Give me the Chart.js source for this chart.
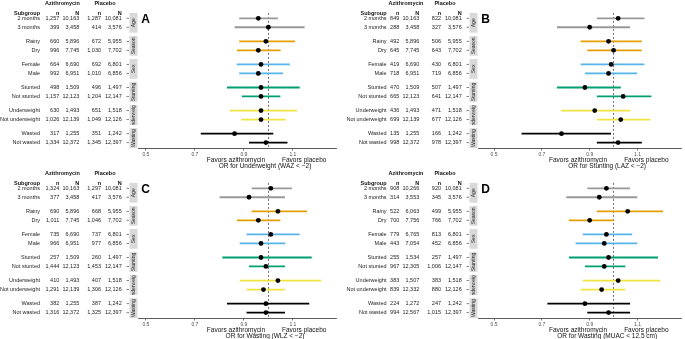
<!DOCTYPE html>
<html>
<head>
<meta charset="utf-8">
<script src="https://cdn.jsdelivr.net/npm/chart.js@4.4.1/dist/chart.umd.min.js"></script>
<style>
  body { margin: 0; width: 685px; height: 339px; position: relative; background: #fff; overflow: hidden; }
  canvas { position: absolute; }
</style>
</head>
<body>
<canvas id="panelA"></canvas>
<canvas id="panelB"></canvas>
<canvas id="panelC"></canvas>
<canvas id="panelD"></canvas>
<script>
// rows and facets, shared by all four panels
const subgroups = ['2 months', '3 months', 'Rainy', 'Dry', 'Female', 'Male',
  'Stunted', 'Not stunted', 'Underweight', 'Not underweight', 'Wasted', 'Not wasted'];
const strips = ['Age', 'Season', 'Sex', 'Stunting', 'Underweight', 'Wasting'];
const stripColors = ['#999999', '#E69F00', '#56B4E9', '#009E73', '#F0E442', '#000000'];
const xTicks = [0.5, 0.7, 0.9, 1.1];

// A: underweight (WAZ < -2)
const uwOR = [0.959, 1.0, 0.99, 0.959, 0.97, 0.959, 0.97, 0.97, 0.97, 0.97, 0.862, 0.99];
const uwLo = [0.881, 0.862, 0.881, 0.872, 0.871, 0.881, 0.831, 0.892, 0.842, 0.89, 0.724, 0.921];
const uwHi = [1.039, 1.148, 1.109, 1.05, 1.088, 1.06, 1.128, 1.049, 1.117, 1.071, 1.02, 1.078];
const uwAzn = [1257, 399, 660, 996, 664, 992, 498, 1157, 630, 1026, 317, 1334];
const uwPln = [1287, 414, 672, 1030, 692, 1010, 496, 1204, 651, 1049, 351, 1345];

// B: stunting (LAZ < -2)
const stOR = [1.019, 0.9, 0.979, 1.0, 0.99, 0.979, 0.88, 1.04, 0.921, 1.03, 0.782, 1.019];
const stLo = [0.93, 0.763, 0.862, 0.89, 0.862, 0.88, 0.763, 0.93, 0.78, 0.93, 0.615, 0.93];
const stHi = [1.129, 1.069, 1.118, 1.118, 1.129, 1.099, 1.03, 1.158, 1.069, 1.154, 0.989, 1.118];
const stAzn = [849, 288, 492, 645, 419, 718, 470, 665, 436, 699, 135, 998];
const stPln = [822, 327, 506, 643, 430, 719, 507, 641, 471, 677, 166, 978];

// C: wasting (WLZ < -2)
const waOR = [1.01, 0.921, 1.039, 0.959, 1.01, 0.97, 0.97, 0.99, 1.039, 0.98, 0.99, 0.99];
const waLo = [0.932, 0.801, 0.932, 0.872, 0.911, 0.883, 0.812, 0.921, 0.883, 0.911, 0.831, 0.911];
const waHi = [1.096, 1.068, 1.158, 1.049, 1.128, 1.069, 1.177, 1.068, 1.216, 1.068, 1.167, 1.068];
const waAzn = [1324, 377, 690, 1011, 735, 966, 257, 1444, 410, 1291, 382, 1316];
const waPln = [1297, 417, 668, 1046, 737, 977, 260, 1453, 407, 1306, 387, 1325];

// D: wasting (MUAC < 12.5 cm)
const muOR = [0.97, 0.94, 1.059, 0.9, 0.97, 0.961, 0.979, 0.961, 1.019, 0.95, 0.88, 0.979];
const muLo = [0.89, 0.802, 0.93, 0.813, 0.871, 0.841, 0.813, 0.88, 0.871, 0.862, 0.723, 0.89];
const muHi = [1.069, 1.099, 1.207, 1.0, 1.078, 1.099, 1.186, 1.049, 1.196, 1.049, 1.069, 1.069];
const muAzn = [908, 314, 522, 700, 779, 443, 255, 967, 383, 839, 224, 994];
const muPln = [920, 345, 499, 766, 813, 452, 257, 1006, 383, 880, 247, 1015];

// denominators
const azN = [10163, 3458, 5896, 7745, 6690, 6951, 1509, 12123, 1493, 12139, 1255, 12372];
const plN = [10081, 3576, 5955, 7702, 6801, 6856, 1497, 12147, 1518, 12126, 1242, 12397];
const muAzN = [10266, 3553, 6063, 7756, 6765, 7054, 1534, 12305, 1507, 12332, 1272, 12567];

const groupGap = 2.57;
const rowY = i => Math.floor(i / 2) * groupGap + (i % 2);
const fmt = v => v.toLocaleString('en-US');
const FONT = '"Liberation Sans", Arial, sans-serif';
const numRight = [59.3, 79.3, 101, 121.7];

const panels = [
  { id: 'panelA', left: 0, top: 0, width: 342, letter: 'A', or: uwOR, lo: uwLo, hi: uwHi,
    azn: uwAzn, azN: azN, pln: uwPln, plN: plN, title: 'OR for Underweight (WAZ < \u22122)',
    xMin: 0.469, xMax: 1.279, padRight: 5.3, labelRight: 40, azCenter: 62.5 },
  { id: 'panelB', left: 340, top: 0, width: 345, letter: 'B', or: stOR, lo: stLo, hi: stHi,
    azn: stAzn, azN: azN, pln: stPln, plN: plN, title: 'OR for Stunting (LAZ < \u22122)',
    xMin: 0.434, xMax: 1.282, padRight: 1.5, labelRight: 46.5, azCenter: 66 },
  { id: 'panelC', left: 0, top: 169.5, width: 342, letter: 'C', or: waOR, lo: waLo, hi: waHi,
    azn: waAzn, azN: azN, pln: waPln, plN: plN, title: 'OR for Wasting (WLZ < \u22122)',
    xMin: 0.469, xMax: 1.279, padRight: 5.3, labelRight: 40, azCenter: 62.5 },
  { id: 'panelD', left: 340, top: 169.5, width: 345, letter: 'D', or: muOR, lo: muLo, hi: muHi,
    azn: muAzn, azN: muAzN, pln: muPln, plN: plN, title: 'OR for Wasting (MUAC < 12.5 cm)',
    xMin: 0.434, xMax: 1.282, padRight: 1.5, labelRight: 46.5, azCenter: 66 },
];

function tablePlugin(p) {
  return {
    id: 'table' + p.letter,
    beforeDatasetsDraw(chart) {
      const { ctx, chartArea, scales: { x } } = chart;
      const px = x.getPixelForValue(1);
      ctx.save();
      ctx.strokeStyle = '#333';
      ctx.lineWidth = 0.7;
      ctx.setLineDash([2, 2]);
      ctx.beginPath();
      ctx.moveTo(px, chartArea.top);
      ctx.lineTo(px, chartArea.bottom);
      ctx.stroke();
      ctx.restore();
    },
    afterDraw(chart) {
      const { ctx, chartArea, scales: { x, y } } = chart;
      ctx.save();
      ctx.textBaseline = 'middle';

      // header
      ctx.fillStyle = '#111';
      ctx.font = 'bold 5.5px ' + FONT;
      ctx.textAlign = 'center';
      ctx.fillText('Azithromycin', p.azCenter, 3);
      ctx.fillText('Placebo', 105, 3);
      ctx.textAlign = 'right';
      ctx.fillText('Subgroup', p.labelRight, 13.3);
      ['n', 'N', 'n', 'N'].forEach((h, k) => ctx.fillText(h, numRight[k], 13.3));

      // rows
      ctx.font = '5.5px ' + FONT;
      ctx.fillStyle = '#222';
      ctx.strokeStyle = '#333';
      ctx.lineWidth = 0.6;
      subgroups.forEach((s, i) => {
        const py = y.getPixelForValue(rowY(i));
        ctx.fillText(s, p.labelRight, py);
        [p.azn[i], p.azN[i], p.pln[i], p.plN[i]].forEach((v, k) => ctx.fillText(fmt(v), numRight[k], py));
        ctx.beginPath();
        ctx.moveTo(126.5, py);
        ctx.lineTo(129, py);
        ctx.stroke();
      });

      // facet strips
      strips.forEach((s, g) => {
        const t = y.getPixelForValue(g * groupGap - 0.6);
        const b = y.getPixelForValue(g * groupGap + 1.6);
        ctx.fillStyle = '#d9d9d9';
        ctx.fillRect(129.5, t, 8, b - t);
        ctx.save();
        ctx.beginPath();
        ctx.rect(129.5, t, 8, b - t);
        ctx.clip();
        ctx.translate(133.5, (t + b) / 2);
        ctx.rotate(-Math.PI / 2);
        ctx.fillStyle = '#1a1a1a';
        ctx.font = '5px ' + FONT;
        ctx.textAlign = 'center';
        ctx.fillText(s, 0, 0.3);
        ctx.restore();
      });

      // panel letter
      ctx.fillStyle = '#000';
      ctx.font = 'bold 12px ' + FONT;
      ctx.textAlign = 'center';
      ctx.fillText(p.letter, 145.5, 20);

      // axis title
      const cx = (chartArea.left + chartArea.right) / 2 + 27.5;
      ctx.font = '6.5px ' + FONT;
      ctx.fillStyle = '#111';
      ctx.textAlign = 'right';
      ctx.fillText('Favors azithromycin', cx, 160);
      ctx.textAlign = 'left';
      ctx.fillText('Favors placebo', cx + 17, 160);
      ctx.textAlign = 'center';
      ctx.fillText(p.title, cx, 166.2);
      ctx.restore();
    }
  };
}

panels.forEach(p => {
  const canvas = document.getElementById(p.id);
  canvas.width = p.width;
  canvas.height = 170;
  canvas.style.left = p.left + 'px';
  canvas.style.top = p.top + 'px';

  const points = {
    data: p.or.map((v, i) => ({ x: v, y: rowY(i) })),
    pointRadius: 2.4,
    pointBackgroundColor: '#000',
    pointBorderWidth: 0,
    showLine: false
  };
  const cis = p.lo.map((lo, i) => ({
    data: [{ x: lo, y: rowY(i) }, { x: p.hi[i], y: rowY(i) }],
    borderColor: stripColors[Math.floor(i / 2)],
    borderWidth: 1.8,
    pointRadius: 0,
    showLine: true
  }));

  new Chart(canvas, {
    type: 'scatter',
    data: { datasets: [points, ...cis] },
    options: {
      responsive: false,
      animation: false,
      devicePixelRatio: 1,
      layout: { padding: { left: 138.3, right: p.padRight, top: 12.9, bottom: 0 } },
      plugins: { legend: { display: false }, tooltip: { enabled: false } },
      scales: {
        x: {
          type: 'linear',
          min: p.xMin,
          max: p.xMax,
          afterBuildTicks: s => { s.ticks = xTicks.map(v => ({ value: v })); },
          afterFit: s => { s.height = 22; },
          ticks: {
            font: { family: FONT, size: 5 },
            color: '#4d4d4d',
            padding: 1.5,
            maxRotation: 0,
            callback: v => v.toFixed(1)
          },
          grid: { drawOnChartArea: false, drawTicks: true, tickLength: 2.5, color: '#333', lineWidth: 0.7 },
          border: { display: true, color: '#333', width: 0.8 }
        },
        y: {
          type: 'linear',
          reverse: true,
          min: -0.6,
          max: 5 * groupGap + 1.6,
          display: false
        }
      }
    },
    plugins: [tablePlugin(p)]
  });
});
</script>
</body>
</html>
